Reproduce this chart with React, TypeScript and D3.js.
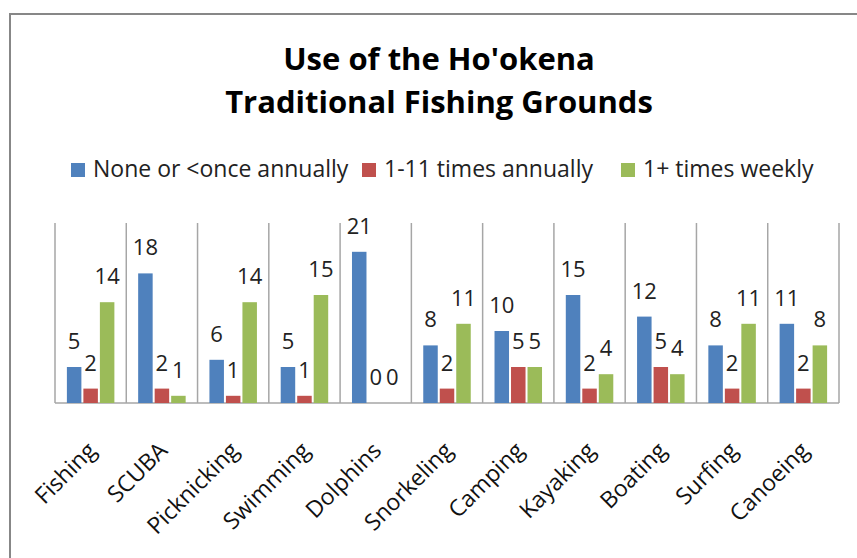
import * as d3 from 'd3';

const categories = ['Fishing', 'SCUBA', 'Picknicking', 'Swimming', 'Dolphins', 'Snorkeling', 'Camping', 'Kayaking', 'Boating', 'Surfing', 'Canoeing'];
const seriesNames = ['None or <once annually', '1-11 times annually', '1+ times weekly'];
const noneOrOnce = [5, 18, 6, 5, 21, 8, 10, 15, 12, 8, 11];
const oneToEleven = [2, 2, 1, 1, 0, 2, 5, 2, 5, 2, 2];
const weekly = [14, 1, 14, 15, 0, 11, 5, 4, 4, 11, 8];
const colors = ['#4F81BD', '#C0504D', '#9BBB59'];

const W = 857;
const H = 558;
const plot = { left: 55, right: 839, top: 223, bottom: 403 };
const font = '"Open Sans", sans-serif';

const App = () => {
  const series = [noneOrOnce, oneToEleven, weekly];

  const x = d3.scaleBand<string>().domain(categories).range([plot.left, plot.right]).padding(0);
  const inner = d3
    .scaleBand<number>()
    .domain([0, 1, 2])
    .range([0, x.bandwidth()])
    .paddingInner(0)
    .paddingOuter(0.66);
  const y = d3.scaleLinear().domain([0, 25]).range([plot.bottom, plot.top]);

  const legendX = [71, 362, 621];

  return (
    <svg width={W} height={H} style={{ position: 'absolute', left: 0, top: 0, background: '#fff' }}>
      <rect x={10} y={14} width={880} height={600} fill="#fff" stroke="#878787" strokeWidth={2} />

      <text x={439} y={70} textAnchor="middle" fontFamily={font} fontWeight="bold" fontSize={31} fill="#000">
        Use of the Ho'okena
      </text>
      <text x={439} y={113} textAnchor="middle" fontFamily={font} fontWeight="bold" fontSize={31} fill="#000">
        Traditional Fishing Grounds
      </text>

      {seriesNames.map((name, i) => (
        <g key={name} transform={`translate(${legendX[i]}, 163)`}>
          <rect width={14} height={14} fill={colors[i]} />
          <text x={22} y={14} fontFamily={font} fontSize={23} fill="#222">
            {name}
          </text>
        </g>
      ))}

      {/* category separators */}
      {categories.map((c) => (
        <line key={c} x1={x(c)} x2={x(c)} y1={plot.top} y2={plot.bottom} stroke="#a6a6a6" strokeWidth={1.5} />
      ))}
      <line x1={plot.right} x2={plot.right} y1={plot.top} y2={plot.bottom} stroke="#a6a6a6" strokeWidth={1.5} />
      <line x1={plot.left} x2={plot.right} y1={plot.bottom} y2={plot.bottom} stroke="#a6a6a6" strokeWidth={1.5} />

      {categories.map((c, ci) => (
        <g key={c} transform={`translate(${x(c)}, 0)`}>
          {series.map((vals, si) => {
            const v = vals[ci];
            const bx = inner(si)! + 1;
            const bw = inner.bandwidth() - 2;
            return (
              <g key={si}>
                {v > 0 && <rect x={bx} y={y(v)} width={bw} height={plot.bottom - y(v)} fill={colors[si]} />}
                <text
                  x={bx + bw / 2}
                  y={y(v) - 18}
                  textAnchor="middle"
                  fontFamily={font}
                  fontSize={22}
                  fill="#222"
                >
                  {v}
                </text>
              </g>
            );
          })}
        </g>
      ))}

      {categories.map((c) => {
        const cx = x(c)! + x.bandwidth() / 2;
        return (
          <text
            key={c}
            transform={`translate(${cx + 7}, 452) rotate(-45)`}
            textAnchor="end"
            fontFamily={font}
            fontSize={23}
            fill="#111"
          >
            {c}
          </text>
        );
      })}
    </svg>
  );
};

export default App;
